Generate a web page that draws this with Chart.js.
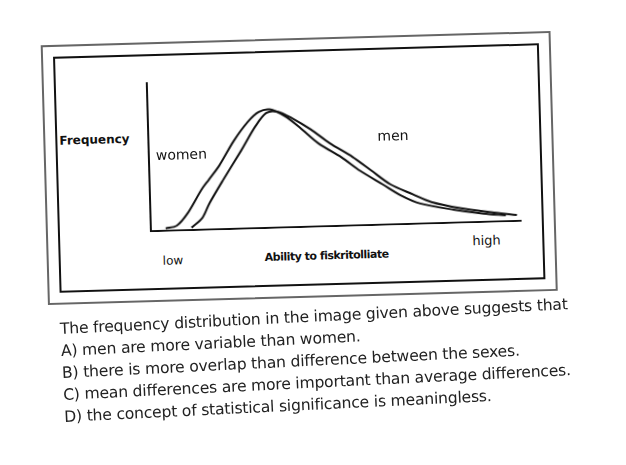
<!DOCTYPE html>
<html><head><meta charset="utf-8">
<script src="https://cdn.jsdelivr.net/npm/chart.js@4"></script>
<style>
body{margin:0;width:626px;height:465px;background:#fff;overflow:hidden;font-family:"DejaVu Sans",sans-serif;}
#wrap{position:absolute;left:0;top:0;width:626px;height:465px;transform:rotate(-1.6deg);transform-origin:300px 160px;}
#txt{position:absolute;left:0;top:0;width:626px;height:465px;transform:rotate(-2.8deg);transform-origin:60px 330px;}
.outer{position:absolute;left:44px;top:38px;width:506px;height:256px;border:2px solid #666;}
.inner{position:absolute;left:56px;top:50px;width:482px;height:232px;border:2px solid #111;}
.lbl{position:absolute;color:#111;}
.q{position:absolute;left:60px;font-size:15.6px;color:#222;letter-spacing:-0.2px;}
</style></head><body>
<div id="wrap">
<div class="outer"></div><div class="inner"></div>
<div style="position:absolute;left:148px;top:78px;width:372px;height:150px;"><canvas id="cv"></canvas></div>
<div class="lbl" style="left:60px;top:127px;font-size:12px;font-weight:bold;">Frequency</div>
<div class="lbl" style="left:156px;top:143px;font-size:14px;">women</div>
<div class="lbl" style="left:378px;top:130px;font-size:14px;">men</div>
<div class="lbl" style="left:160px;top:250px;font-size:12px;">low</div>
<div class="lbl" style="left:262px;top:250px;font-size:11px;font-weight:bold;letter-spacing:-0.5px;">Ability to fiskritolliate</div>
<div class="lbl" style="left:470px;top:238px;font-size:13px;">high</div>
</div>
<div id="txt">
<div class="q" style="top:320px;">The frequency distribution in the image given above suggests that</div>
<div class="q" style="top:342px;">A) men are more variable than women.</div>
<div class="q" style="top:364px;">B) there is more overlap than difference between the sexes.</div>
<div class="q" style="top:386px;">C) mean differences are more important than average differences.</div>
<div class="q" style="top:408px;">D) the concept of statistical significance is meaningless.</div>
</div>
<script>
const womenX=[4,7,10,14,16,19,23,27,30,33,37,41,46,52,57,63,68,73,82,90,96];
const womenY=[2,4,14,34,42,54,74,90,98,100,94,84,70,58,46,34,24,17,11,7,5];
const menX=[11,14,16,20,25,29,32,35,39,44,49,55,60,65,71,76,84,92,99];
const menY=[2,10,22,42,66,86,97,98,92,82,70,58,46,34,25,18,12,8,5];
const pts=(xs,ys)=>xs.map((x,i)=>({x:x,y:ys[i]}));
const ds=(d)=>({data:d,showLine:true,borderColor:'#111',borderWidth:2,pointRadius:0,tension:0.3,fill:false});
new Chart(document.getElementById('cv'),{type:'scatter',
data:{datasets:[ds(pts(womenX,womenY)),ds(pts(menX,menY))]},
options:{responsive:true,maintainAspectRatio:false,animation:false,
plugins:{legend:{display:false},tooltip:{enabled:false}},
layout:{padding:0},
scales:{x:{min:0,max:100,ticks:{display:false},grid:{display:false,drawTicks:false},border:{color:'#111',width:2}},
y:{min:0,max:125,ticks:{display:false},grid:{display:false,drawTicks:false},border:{color:'#111',width:2}}}}});
</script>
</body></html>
